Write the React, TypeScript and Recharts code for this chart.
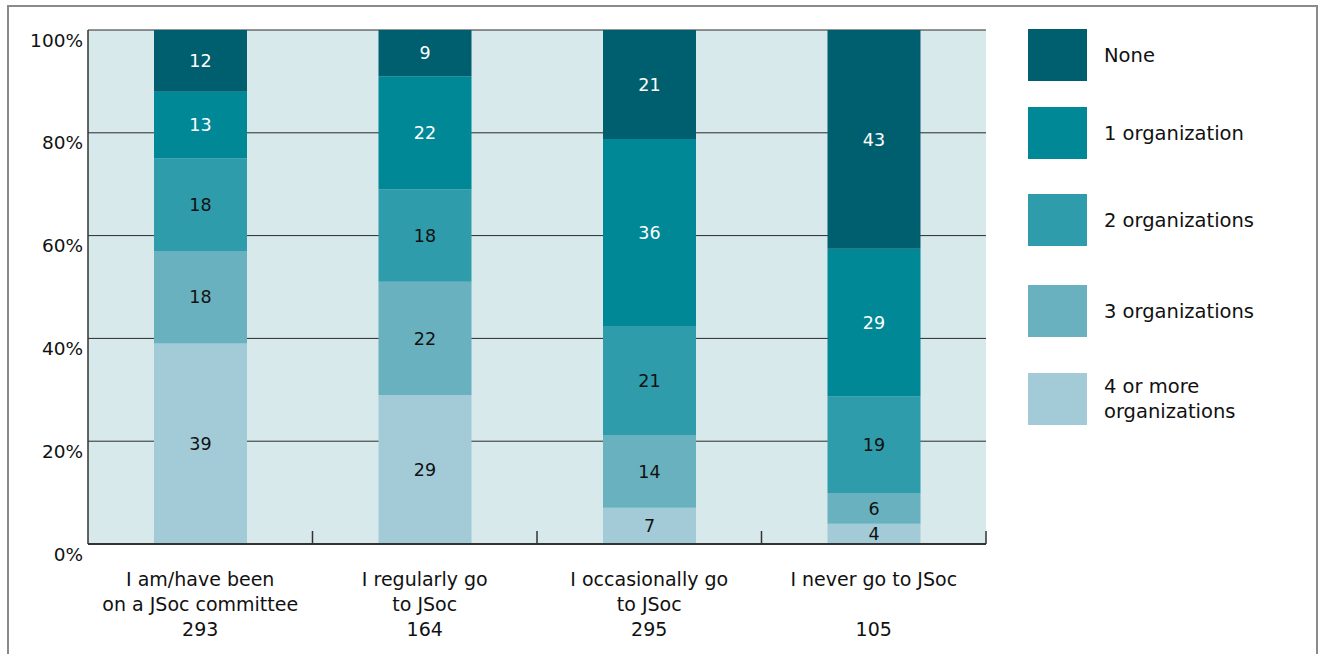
import React from "react";
import {
  BarChart,
  Bar,
  XAxis,
  YAxis,
  CartesianGrid,
  LabelList,
} from "recharts";

const categories = [
  "I am/have been on a JSoc committee",
  "I regularly go to JSoc",
  "I occasionally go to JSoc",
  "I never go to JSoc",
];
const categoryLines = [
  ["I am/have been", "on a JSoc committee"],
  ["I regularly go", "to JSoc"],
  ["I occasionally go", "to JSoc"],
  ["I never go to JSoc"],
];
const respondents = [293, 164, 295, 105];

// percentages per category, bottom of the stack first
const fourPlus = [39, 29, 7, 4];
const three = [18, 22, 14, 6];
const two = [18, 18, 21, 19];
const one = [13, 22, 36, 29];
const none = [12, 9, 21, 43];

const yTicks = [0, 0.2, 0.4, 0.6, 0.8, 1];

const SERIES = [
  { key: "fourPlus", name: "4 or more organizations", color: "#a2cbd7", text: "#111" },
  { key: "three", name: "3 organizations", color: "#69b1be", text: "#111" },
  { key: "two", name: "2 organizations", color: "#2e9cab", text: "#111" },
  { key: "one", name: "1 organization", color: "#008896", text: "#fff" },
  { key: "none", name: "None", color: "#005f6e", text: "#fff" },
];

const FONT = "'DejaVu Sans', 'Noto Sans', sans-serif";

const data = categories.map((name, i) => ({
  name,
  fourPlus: fourPlus[i],
  three: three[i],
  two: two[i],
  one: one[i],
  none: none[i],
}));

const YTick = (props: any) => {
  const { x, y, payload } = props;
  return (
    <text
      x={x}
      y={y + 10}
      dy="0.36em"
      textAnchor="end"
      fontFamily={FONT}
      fontSize={18.5}
      fill="#111"
    >
      {`${Math.round(payload.value * 100)}%`}
    </text>
  );
};

const XTick = (props: any) => {
  const { x, y, payload, index } = props;
  const half = payload.offset || 112.25;
  const lines = categoryLines[index] || [payload.value];
  return (
    <g>
      <line x1={x + half} x2={x + half} y1={y - 13} y2={y} stroke="#333" strokeWidth={1.5} />
      {lines.map((l, i) => (
        <text
          key={i}
          x={x}
          y={y + 42 + i * 25}
          textAnchor="middle"
          fontFamily={FONT}
          fontSize={19}
          fill="#111"
        >
          {l}
        </text>
      ))}
      <text
        x={x}
        y={y + 92}
        textAnchor="middle"
        fontFamily={FONT}
        fontSize={19}
        fill="#111"
      >
        {respondents[index]}
      </text>
    </g>
  );
};

const legendTops = [29, 107, 194, 285, 373];

const ChartLegend: React.FC = () => {
  const items = [...SERIES].reverse();
  return (
    <div style={{ position: "absolute", left: 1028, top: 0, fontFamily: FONT }}>
      {items.map((s, i) => (
        <div
          key={s.key}
          style={{
            position: "absolute",
            top: legendTops[i],
            left: 0,
            width: 280,
            height: 52,
            display: "flex",
            alignItems: "center",
          }}
        >
          <div style={{ width: 59, height: 52, background: s.color, flex: "none" }} />
          <div
            style={{
              marginLeft: 17,
              fontSize: 19.5,
              lineHeight: "25px",
              color: "#111",
              width: s.key === "fourPlus" ? 150 : 200,
            }}
          >
            {s.name}
          </div>
        </div>
      ))}
    </div>
  );
};

export default function App() {
  return (
    <div
      style={{
        position: "absolute",
        left: 0,
        top: 0,
        width: 1319,
        height: 654,
        overflow: "hidden",
        background: "#fff",
      }}
    >
      <div
        style={{
          position: "absolute",
          left: 7,
          top: 5,
          width: 1311,
          height: 700,
          border: "2px solid #8a8a8a",
          boxSizing: "border-box",
        }}
      />
      <div style={{ position: "absolute", left: 0, top: 0 }}>
        <BarChart
          width={1319}
          height={654}
          data={data}
          stackOffset="expand"
          margin={{ top: 30, right: 333, bottom: 0, left: 0 }}
        >
          <CartesianGrid
            vertical={false}
            stroke="#2a2a2a"
            strokeWidth={1}
            fill="#d8e9ec"
            fillOpacity={1}
          />
          <XAxis
            dataKey="name"
            tickLine={false}
            tickSize={0}
            tickMargin={0}
            axisLine={{ stroke: "#333", strokeWidth: 2 }}
            tick={<XTick />}
            interval={0}
            height={110}
          />
          <YAxis
            width={88}
            domain={[0, 1]}
            ticks={yTicks}
            tickLine={false}
            tickSize={0}
            tickMargin={5}
            axisLine={{ stroke: "#333", strokeWidth: 1.5 }}
            tick={<YTick />}
          />
          {SERIES.map((s) => (
            <Bar
              key={s.key}
              dataKey={s.key}
              name={s.name}
              stackId="a"
              fill={s.color}
              barSize={93}
              isAnimationActive={false}
            >
              <LabelList
                dataKey={s.key}
                position="center"
                fill={s.text}
                fontSize={17.5}
                fontFamily={FONT}
              />
            </Bar>
          ))}
        </BarChart>
      </div>
      <ChartLegend />
    </div>
  );
}
